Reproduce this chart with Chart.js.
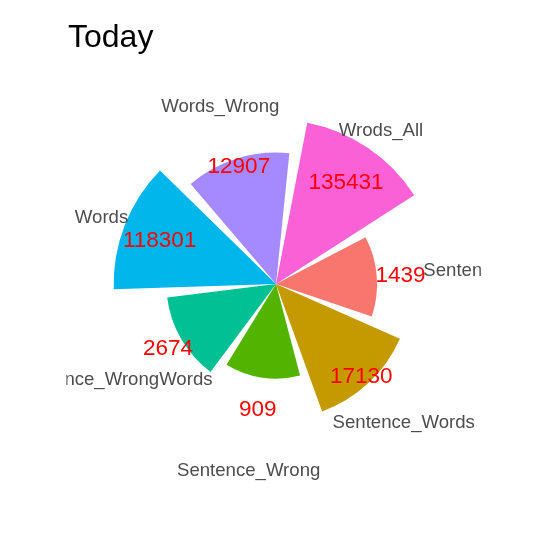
<!DOCTYPE html>
<html>
<head>
<meta charset="utf-8">
<script src="https://cdn.jsdelivr.net/npm/chart.js@4"></script>
<style>
  html, body { margin: 0; padding: 0; background: #fff; }
  canvas { display: block; }
</style>
</head>
<body>
<canvas id="c" width="540" height="540"></canvas>
<script>
const title = 'Today';
const categories = ['Sentence', 'Sentence_Words', 'Sentence_Wrong', 'Sentence_WrongWords', 'Words', 'Words_Wrong', 'Wrods_All'];
const counts = [1439, 17130, 909, 2674, 118301, 12907, 135431];
const colors = ['#F8766D', '#C49A00', '#53B400', '#00C094', '#00B6EB', '#A58AFF', '#FB61D7'];

const SLOT = 360 / categories.length;
const BAR = SLOT * 0.9;
const GAP = SLOT - BAR;
const START = 62.4;          // angle (deg, clockwise from top) where the first bar begins
const LABEL_R = 5.85;        // category label radius, in log10 units
const VALUE_R = 3.9;         // value label radius, in log10 units
const PANEL_LEFT = 6.55;     // panel extent left of centre, in log10 units (labels clipped)
const PANEL_RIGHT = 6.4;     // panel extent right of centre
const PANEL_V = 6.5;         // panel extent above/below centre

// interleave bars and transparent gaps
const labels = [], values = [], bg = [];
categories.forEach((c, i) => {
  labels.push(c); values.push(Math.log10(counts[i])); bg.push(colors[i]);
  labels.push(''); values.push(0); bg.push('rgba(0,0,0,0)');
});

const textPlugin = {
  id: 'texts',
  afterDatasetsDraw(chart) {
    const ctx = chart.ctx;
    const scale = chart.scales.r;
    const cx = scale.xCenter, cy = scale.yCenter;
    const meta = chart.getDatasetMeta(0);
    const d = v => scale.getDistanceFromCenterForValue(v);
    ctx.save();
    // value labels
    ctx.fillStyle = '#FF0000';
    ctx.font = '22.5px "Liberation Sans", Arial, sans-serif';
    ctx.textAlign = 'center';
    ctx.textBaseline = 'alphabetic';
    categories.forEach((c, i) => {
      const arc = meta.data[2 * i];
      const mid = (arc.startAngle + arc.endAngle) / 2;
      const r = d(VALUE_R);
      ctx.fillText(String(counts[i]), cx + r * Math.cos(mid), cy + r * Math.sin(mid) + 0.358 * 22.5);
    });
    // category labels, clipped to panel
    ctx.beginPath();
    ctx.rect(cx - d(PANEL_LEFT), cy - d(PANEL_V), d(PANEL_LEFT) + d(PANEL_RIGHT), 2 * d(PANEL_V));
    ctx.clip();
    ctx.fillStyle = '#4D4D4D';
    ctx.font = '18.6px "Liberation Sans", Arial, sans-serif';
    categories.forEach((c, i) => {
      const arc = meta.data[2 * i];
      const mid = (arc.startAngle + arc.endAngle) / 2;
      const r = d(LABEL_R);
      ctx.fillText(c, cx + r * Math.cos(mid), cy + r * Math.sin(mid) + 0.358 * 18.6);
    });
    ctx.restore();
    // title
    ctx.save();
    ctx.fillStyle = '#000000';
    ctx.font = '32px "Liberation Sans", Arial, sans-serif';
    ctx.textAlign = 'left';
    ctx.textBaseline = 'alphabetic';
    ctx.fillText(title, 68, 47);
    ctx.restore();
  }
};

new Chart(document.getElementById('c'), {
  type: 'polarArea',
  data: {
    labels: labels,
    datasets: [{
      data: values,
      backgroundColor: bg,
      borderWidth: 0,
      angle: ctx => (ctx.dataIndex % 2 === 0 ? BAR : GAP)
    }]
  },
  options: {
    responsive: false,
    animation: false,
    layout: { padding: { left: 84, top: 92, right: 72, bottom: 64 } },
    plugins: { legend: { display: false }, tooltip: { enabled: false }, title: { display: false } },
    scales: {
      r: {
        min: 0, max: 6,
        startAngle: START,
        ticks: { display: false },
        grid: { display: false },
        angleLines: { display: false },
        pointLabels: { display: false }
      }
    }
  },
  plugins: [textPlugin]
});
</script>
</body>
</html>
